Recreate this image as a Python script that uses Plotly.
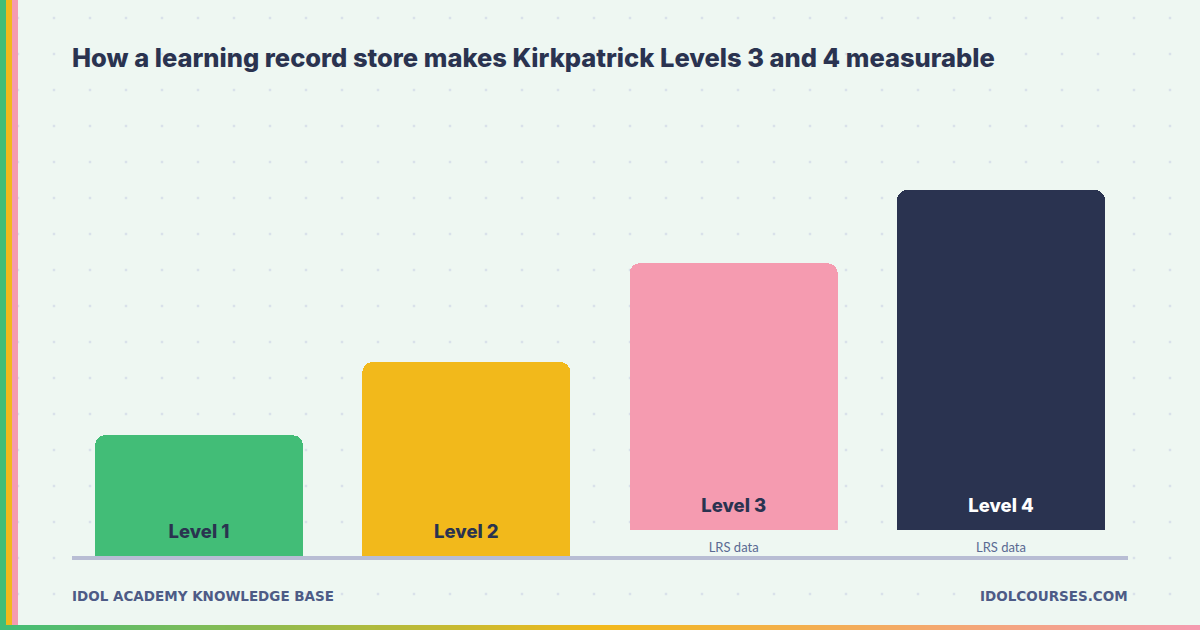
import numpy as np
import plotly.graph_objects as go

# ---- data ----
levels = ["Level 1", "Level 2", "Level 3", "Level 4"]
scores = [33, 53, 80, 100]
lrs_backed = [False, False, True, True]
lrs_label = "LRS data"
LRS_BAND = 7  # value units reserved under LRS-backed bars for the label
bar_colors = ["#42bd77", "#f2b91b", "#f59bb0", "#2a3350"]
label_colors = ["#2a3350", "#2a3350", "#2a3350", "#ffffff"]

title_text = "How a learning record store makes Kirkpatrick Levels 3 and 4 measurable"
footer_left = "IDOL ACADEMY KNOWLEDGE BASE"
footer_right = "IDOLCOURSES.COM"

W, H = 1200, 630
BG = "#eef7f2"
NAVY = "#2a3350"
MUTED = "#4d5b86"

bases = [LRS_BAND if f else 0 for f in lrs_backed]
heights = [s - b for s, b in zip(scores, bases)]
xs = list(range(len(levels)))

fig = go.Figure()

# background dot grid (subplot xy, drawn beneath)
gx, gy = np.meshgrid(np.arange(18, W, 36), np.arange(18, H, 36))
fig.add_trace(go.Scatter(
    x=gx.ravel(), y=gy.ravel(), mode="markers",
    marker=dict(symbol="square", size=2.5, color="#d9e1ea", line=dict(width=0)),
    xaxis="x", yaxis="y", hoverinfo="skip", showlegend=False))

# bars (subplot x2y2): rounded tops ...
fig.add_trace(go.Bar(
    x=xs, y=heights, base=bases, width=0.778,
    marker=dict(color=bar_colors, line=dict(width=0), cornerradius=10),
    xaxis="x2", yaxis="y2", hoverinfo="skip", showlegend=False))
# ... with square bottoms
fig.add_trace(go.Bar(
    x=xs, y=[h - 3.5 for h in heights], base=bases, width=0.778,
    marker=dict(color=bar_colors, line=dict(width=0)),
    xaxis="x2", yaxis="y2", hoverinfo="skip", showlegend=False))

# level labels inside bars
fig.add_trace(go.Scatter(
    x=xs, y=[b + 6.2 for b in bases], mode="text", text=levels,
    textfont=dict(family="Inter", size=18.5, weight=800, color=label_colors),
    xaxis="x2", yaxis="y2", hoverinfo="skip", showlegend=False, cliponaxis=False))

# LRS data labels under LRS-backed bars
lrs_x = [x for x, f in zip(xs, lrs_backed) if f]
fig.add_trace(go.Scatter(
    x=lrs_x, y=[2.1] * len(lrs_x), mode="text", text=[lrs_label] * len(lrs_x),
    textfont=dict(family="Lato", size=13, color="#5a6a92"),
    xaxis="x2", yaxis="y2", hoverinfo="skip", showlegend=False, cliponaxis=False))

# bottom gradient strip (subplot x3y3)
fig.add_trace(go.Heatmap(
    z=[np.linspace(0, 1, 240).tolist()],
    colorscale=[[0, "#42bd77"], [0.5, "#f2b91b"], [1, "#f59bb0"]],
    showscale=False, xaxis="x3", yaxis="y3", hoverinfo="skip"))

hidden = dict(visible=False, showgrid=False, zeroline=False, fixedrange=True)
y_bottom_px, y_top_px = 556, 190
fig.update_layout(
    width=W, height=H,
    margin=dict(l=0, r=0, t=0, b=0),
    paper_bgcolor=BG, plot_bgcolor="rgba(0,0,0,0)",
    xaxis=dict(domain=[0, 1], range=[0, W], **hidden),
    yaxis=dict(domain=[0, 1], range=[H, 0], **hidden),
    xaxis2=dict(domain=[65.33 / W, 1134.67 / W], range=[-0.5, 3.5], anchor="y2", **hidden),
    yaxis2=dict(domain=[(H - y_bottom_px) / H, (H - y_top_px) / H], range=[0, 100], anchor="x2", **hidden),
    xaxis3=dict(domain=[0, 1], anchor="y3", **hidden),
    yaxis3=dict(domain=[0, 5 / H], anchor="x3", **hidden),
    barmode="overlay", bargap=0, showlegend=False,
    hovermode=False,
)

# left colour stripes
for i, c in enumerate(["#42bd77", "#f2b91b", "#f59bb0"]):
    fig.add_shape(type="rect", xref="paper", yref="paper",
                  x0=i * 6 / W, x1=(i + 1) * 6 / W, y0=5 / H, y1=1,
                  fillcolor=c, line=dict(width=0), layer="above")

# baseline
fig.add_shape(type="rect", xref="paper", yref="paper",
              x0=72 / W, x1=1128 / W, y0=(H - 560) / H, y1=(H - 556) / H,
              fillcolor="#b8bdd4", line=dict(width=0), layer="above")

# title and footers
fig.add_annotation(text=title_text, xref="paper", yref="paper",
                   x=70 / W, y=(H - 57.5) / H, xanchor="left", yanchor="middle",
                   showarrow=False,
                   font=dict(family="Inter", size=25.5, weight=800, color=NAVY))
fig.add_annotation(text=footer_left, xref="paper", yref="paper",
                   x=69.5 / W, y=(H - 596) / H, xanchor="left", yanchor="middle",
                   showarrow=False,
                   font=dict(family="DejaVu Sans", size=13.5, weight=700, color=MUTED))
fig.add_annotation(text=footer_right, xref="paper", yref="paper",
                   x=1130 / W, y=(H - 596) / H, xanchor="right", yanchor="middle",
                   showarrow=False,
                   font=dict(family="DejaVu Sans", size=13.5, weight=700, color=MUTED))

fig.write_html("out.html", config=dict(displayModeBar=False, staticPlot=True),
               post_script="document.body.style.margin='0';")
